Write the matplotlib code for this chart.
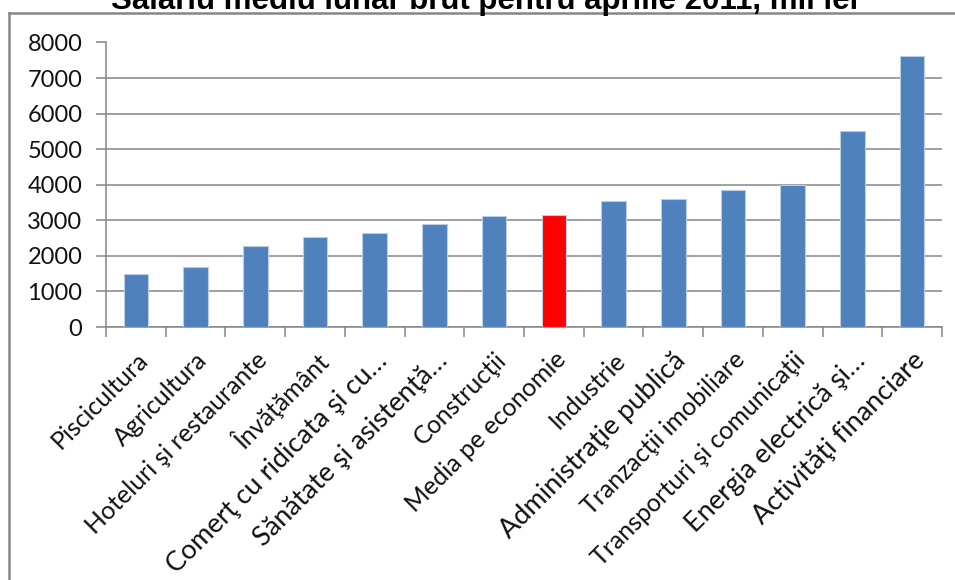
import matplotlib
matplotlib.use('Agg')
import matplotlib.pyplot as plt
from matplotlib.lines import Line2D
import numpy as np

plt.rcParams['font.family'] = ['Lato', 'DejaVu Sans']

title = 'Salariu mediu lunar brut pentru aprilie 2011, mii lei'
categories = ['Piscicultura', 'Agricultura', 'Hoteluri şi restaurante', 'Învăţământ',
              'Comerţ cu ridicata şi cu…', 'Sănătate şi asistenţă…', 'Construcţii',
              'Media pe economie', 'Industrie', 'Administraţie publică',
              'Tranzacţii imobiliare', 'Transporturi şi comunicaţii',
              'Energia electrică şi…', 'Activităţi financiare']
values = [1480, 1700, 2280, 2535, 2650, 2900, 3110, 3140, 3540, 3610, 3860, 4000, 5520, 7610]
highlight = 'Media pe economie'
yticks = [0, 1000, 2000, 3000, 4000, 5000, 6000, 7000, 8000]
# labels that the original draws a little larger
big_labels = ['Comerţ cu ridicata şi cu…', 'Sănătate şi asistenţă…', 'Administraţie publică',
              'Energia electrică şi…', 'Activităţi financiare']

grey = '#868686'
blue = '#4F81BD'

fig = plt.figure(figsize=(9.55, 5.8), dpi=100)
ax = fig.add_axes([106 / 955, 1 - 327 / 580, (942 - 106) / 955, (327 - 42.5) / 580])

x = np.arange(len(categories))
colors = ['#FF0000' if c == highlight else blue for c in categories]
ax.bar(x, values, width=0.41, color=colors, edgecolor='#B9CDE5', linewidth=0.8, zorder=3)

ax.set_xlim(-0.5, len(categories) - 0.5)
ax.set_ylim(0, 8000)
ax.set_yticks(yticks)
ax.set_yticklabels([str(v) for v in yticks], fontsize=17, color='#111111')
ax.yaxis.grid(True, color=grey, linewidth=1.1, zorder=0)
ax.set_axisbelow(True)

# category ticks at the boundaries, labels at the centres
ax.set_xticks(np.arange(len(categories) + 1) - 0.5)
ax.set_xticklabels([])
ax.set_xticks(x, minor=True)
labels = ax.set_xticklabels(categories, minor=True, rotation=45, ha='right',
                            rotation_mode='anchor', fontsize=18, color='#111111')
for t in labels:
    if t.get_text() in big_labels:
        t.set_fontsize(19.5)
ax.tick_params(axis='x', which='minor', length=0, pad=15)
ax.tick_params(axis='x', which='major', length=7, color=grey, width=1.1)
ax.tick_params(axis='y', length=7, color=grey, width=1.1, pad=10)

for s in ['top', 'right']:
    ax.spines[s].set_visible(False)
for s in ['left', 'bottom']:
    ax.spines[s].set_color(grey)
    ax.spines[s].set_linewidth(1.1)

# outer chart frame (cut off at right and bottom)
fig.add_artist(Line2D([9 / 955, 9 / 955], [0, 1 - 12.5 / 580], color=grey, lw=1.8,
                      transform=fig.transFigure))
fig.add_artist(Line2D([9 / 955, 1], [1 - 12.5 / 580, 1 - 12.5 / 580], color=grey, lw=1.8,
                      transform=fig.transFigure))

fig.text(484.5 / 955, 1 - 9.5 / 580, title, ha='center', va='baseline',
         fontsize=22.5, fontweight='bold', family=['Liberation Sans', 'DejaVu Sans'])

fig.savefig('out.png', dpi=100)
